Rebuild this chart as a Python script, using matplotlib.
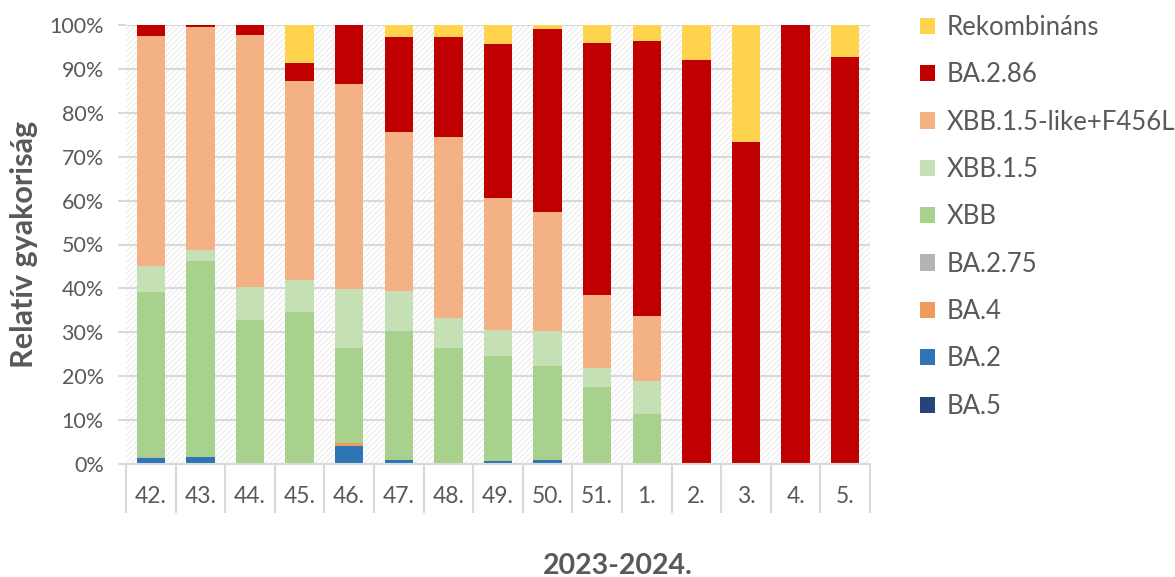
import numpy as np
import matplotlib
matplotlib.use("Agg")
import matplotlib.pyplot as plt
from matplotlib.patches import Rectangle
from matplotlib.ticker import PercentFormatter, FixedLocator

plt.rcParams['font.family'] = ['Lato', 'DejaVu Sans']
plt.rcParams['hatch.linewidth'] = 0.6

weeks = ["42.", "43.", "44.", "45.", "46.", "47.", "48.", "49.", "50.", "51.",
         "1.", "2.", "3.", "4.", "5."]

# relative frequencies in %, stacked bottom -> top
ba5 = [0, 0, 0, 0, 0, 0, 0, 0, 0, 0, 0, 0, 0, 0, 0]
ba2 = [1.4, 1.6, 0, 0, 4.0, 0.8, 0.3, 0.6, 1.0, 0, 0, 0, 0, 0, 0]
ba4 = [0, 0, 0, 0, 0.8, 0, 0, 0, 0, 0, 0, 0, 0, 0, 0]
ba275 = [0.1, 0, 0.3, 0, 0, 0, 0, 0, 0, 0, 0, 0, 0, 0, 0]
xbb = [37.7, 44.6, 32.4, 34.7, 21.6, 29.6, 26.1, 23.9, 21.3, 17.5, 11.3, 0, 0, 0, 0]
xbb15 = [5.9, 2.6, 7.7, 7.1, 13.5, 8.9, 6.8, 6.1, 8.0, 4.3, 7.7, 0, 0, 0, 0]
f456l = [52.5, 50.8, 57.3, 45.5, 46.6, 36.3, 41.2, 29.9, 27.1, 16.8, 14.8, 0, 0, 0, 0]
ba286 = [2.4, 0.4, 2.3, 4.1, 13.5, 21.7, 22.9, 35.1, 41.8, 57.4, 62.6, 92.1, 73.4, 100, 92.6]
rekomb = [0, 0, 0, 8.6, 0, 2.7, 2.7, 4.4, 0.8, 4.0, 3.6, 7.9, 26.6, 0, 7.4]

series = [
    ("BA.5", ba5, "#264478"),
    ("BA.2", ba2, "#2E75B6"),
    ("BA.4", ba4, "#F19A5E"),
    ("BA.2.75", ba275, "#B4B4B4"),
    ("XBB", xbb, "#A9D18E"),
    ("XBB.1.5", xbb15, "#C5E0B4"),
    ("XBB.1.5-like+F456L", f456l, "#F4B183"),
    ("BA.2.86", ba286, "#C00000"),
    ("Rekombináns", rekomb, "#FFD34D"),
]

grey = "#595959"
gridc = "#D9D9D9"

fig = plt.figure(figsize=(11.75, 5.77), dpi=100)
ax = fig.add_axes([126 / 1175, 113 / 577, 744 / 1175, 439 / 577])

x = np.arange(len(weeks))
ax.set_xlim(-0.5, len(weeks) - 0.5)
ax.set_ylim(0, 100)

# hatched plot background
ax.add_patch(Rectangle((0, 0), 1, 1, transform=ax.transAxes, facecolor="white",
                       edgecolor="#E6E6E6", hatch="//////", linewidth=0, zorder=0))

ax.yaxis.set_major_locator(FixedLocator(np.arange(0, 101, 10)))
ax.yaxis.set_major_formatter(PercentFormatter(decimals=0))
ax.grid(axis="y", color=gridc, linewidth=1.5, zorder=1)
ax.set_axisbelow(True)

bottom = np.zeros(len(weeks))
handles = []
for name, vals, col in series:
    vals = np.array(vals, dtype=float)
    b = ax.bar(x, vals, width=0.57, bottom=bottom, color=col, label=name, zorder=2)
    bottom += vals
    handles.append(b)

for s in ["top", "right", "left"]:
    ax.spines[s].set_visible(False)
ax.spines["bottom"].set_color(gridc)
ax.spines["bottom"].set_linewidth(1.5)

ax.set_xticks(x)
ax.set_xticklabels(weeks)
ax.set_xticks(np.arange(-0.5, len(weeks)), minor=True)
ax.tick_params(axis="x", which="major", length=0, pad=16, labelsize=16.5, labelcolor=grey)
ax.tick_params(axis="x", which="minor", length=35, width=1.5, color=gridc, direction="out")
ax.tick_params(axis="y", length=6, width=1.5, color=gridc, labelsize=15.5, labelcolor=grey, pad=10)

fig.text(24 / 1175, (113 + 439 / 2) / 577, "Relatív gyakoriság", rotation=90,
         ha="center", va="center", fontsize=22, fontweight="bold", color=grey)
fig.text(618 / 1175, 3 / 577, "2023-2024.", ha="center", va="baseline", fontsize=20.5,
         fontweight="bold", color=grey)

leg = ax.legend(handles[::-1], [s[0] for s in series[::-1]], loc="upper left",
                bbox_to_anchor=(1 + 50 / 744, 1.023), frameon=False, fontsize=18.5,
                labelcolor=grey, handlelength=0.6, handleheight=0.6,
                handletextpad=0.45, labelspacing=0.87, borderaxespad=0, borderpad=0)

fig.savefig("out.png", dpi=100)
